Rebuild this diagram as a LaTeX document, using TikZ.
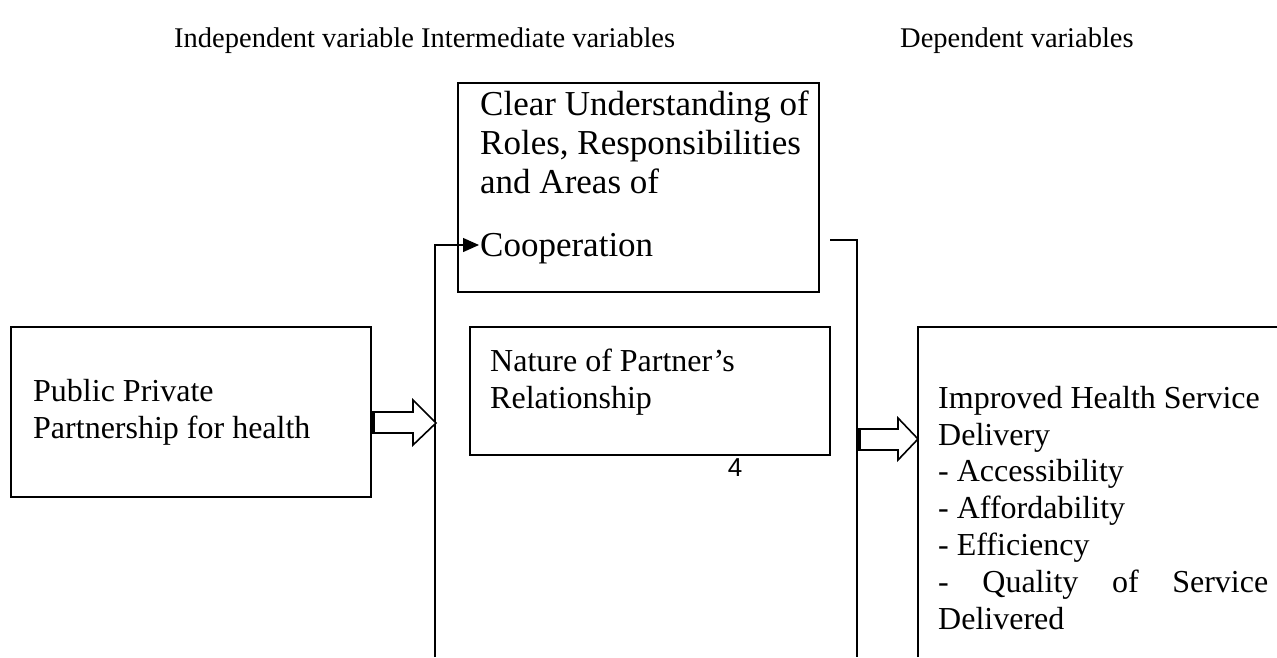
\documentclass[tikz,border=0pt]{standalone}
\usepackage{fontspec}
\setmainfont{Liberation Serif}
\newfontfamily\digitfont{Liberation Sans}
\usetikzlibrary{arrows.meta}
\tikzset{
  txt/.style={anchor=base west, inner sep=0pt, font=\fontsize{32}{37}\selectfont},
  bigtxt/.style={anchor=base west, inner sep=0pt, font=\fontsize{35}{40}\selectfont},
  head/.style={anchor=base west, inner sep=0pt, font=\fontsize{28.5}{34}\selectfont},
  boxline/.style={line width=2pt},
  thinline/.style={line width=1.3pt},
  hollow/.style={draw, fill=white, line width=1.6pt, line join=miter},
}
\begin{document}
\begin{tikzpicture}[x=1pt, y=-1pt]
\useasboundingbox (0,0) rectangle (1277,657);
\fill[white] (0,0) rectangle (1277,657);

% column headings
\node[head] (h1) at (174,47) {Independent variable Intermediate variables};
\node[head] (h2) at (900,47) {Dependent variables};

% independent variable
\draw[boxline] (11,327) rectangle (371,497);
\node[txt] (l1) at (33,401) {Public Private};
\node[txt] (l2) at (33,438) {Partnership for health};

% intermediate variables
\draw[boxline] (458,83) rectangle (819,292);
\node[bigtxt] (a1) at (480,115) {Clear Understanding of};
\node[bigtxt] (a2) at (480,154) {Roles, Responsibilities};
\node[bigtxt] (a3) at (480,193) {and Areas of};
\node[bigtxt] (a4) at (480,256) {Cooperation};

\draw[boxline] (470,327) rectangle (830,455);
\node[txt] (b1) at (490,371) {Nature of Partner’s};
\node[txt] (b2) at (490,408) {Relationship};

\node[anchor=center, inner sep=0pt, font=\digitfont\fontsize{26}{30}\selectfont] (pg) at (735,468) {4};

% dependent variables (open on the right)
\draw[boxline] (918,657) -- (918,327) -- (1277,327);
\node[txt] (r1) at (938,408) {Improved Health Service};
\node[txt] (r2) at (938,445) {Delivery};
\node[txt] (r3) at (938,481) {- Accessibility};
\node[txt] (r4) at (938,518) {- Affordability};
\node[txt] (r5) at (938,555) {- Efficiency};
\node[txt] (r6) at (938,592) {\makebox[330pt][s]{- Quality of Service}};
\node[txt] (r7) at (938,629) {Delivered};

% bracket lines around the intermediate variables
\coordinate (lb) at (435,657);
\coordinate (lt) at (435,245);
\coordinate (la) at (479,245);
\draw[thinline, -{Triangle[length=16pt,width=14pt]}] (lb) -- (lt) -- (la);
\coordinate (rs) at (830,240);
\coordinate (rt) at (857,240);
\coordinate (rb) at (857,657);
\draw[thinline] (rs) -- (rt) -- (rb);

% block arrows
\draw[hollow] (372,412) -- (413,412) -- (413,400) -- (436,423) -- (413,445) -- (413,433) -- (372,433) -- cycle;
\draw[line width=3pt] (373,412) -- (373,433);
\draw[hollow] (858,429) -- (898,429) -- (898,418) -- (918,439) -- (898,460) -- (898,450) -- (858,450) -- cycle;
\draw[line width=3pt] (859,429) -- (859,450);
\end{tikzpicture}
\end{document}
